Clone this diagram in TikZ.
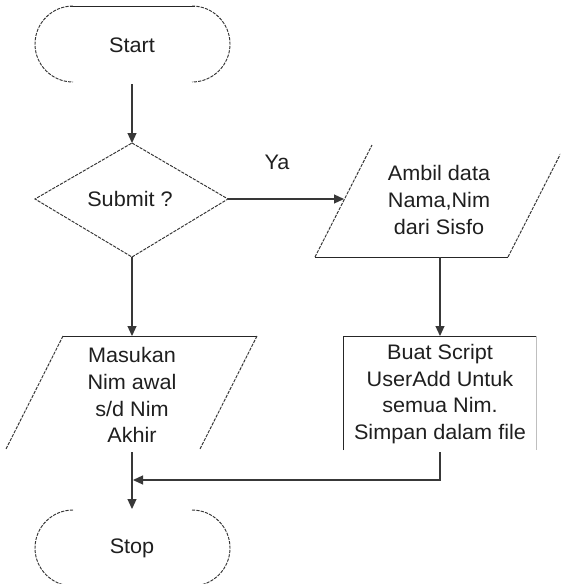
\documentclass[tikz,border=0pt]{standalone}
\usepackage{fontspec}
\setmainfont{Liberation Sans}[FakeStretch=1.03]
\usetikzlibrary{arrows.meta}

\begin{document}
\begin{tikzpicture}[x=1pt,y=-1pt,
  txt/.style={align=center,inner sep=0pt,text=black!88,
    font=\fontsize{21}{26.8}\selectfont},
  solidedge/.style={line width=1pt,draw=black!85},
  brokenedge/.style={line width=0.95pt,draw=black!80,dash pattern=on 3.2pt off 1.2pt},
  faintedge/.style={line width=0.8pt,draw=black!25},
  flow/.style={line width=1.2pt,draw=black!78,
    -{Triangle[length=10pt,width=9pt]}}]

\useasboundingbox (0,0) rectangle (560,584);
\clip (0,0) rectangle (560,584);
\fill[white] (0,0) rectangle (560,584);

% ---------- Start terminator ----------
\node[txt] (start) at (132,45) {Start};
\coordinate (startB) at (132,84);
\draw[solidedge] (70,6) -- (195,6);
\draw[brokenedge] (73,6) arc[start angle=-90,end angle=-270,radius=38];
\draw[brokenedge] (192,6) arc[start angle=-90,end angle=90,radius=38];

% ---------- Decision ----------
\node[txt] (dec) at (130,199) {Submit ?};
\coordinate (decN) at (132,143);
\coordinate (decE) at (228,199);
\coordinate (decS) at (132,257);
\coordinate (decW) at (35,199);
\draw[brokenedge] (decN) -- (decE) -- (decS) -- (decW) -- cycle;
\node[txt] (ya) at (277,162) {Ya};

% ---------- Input: Ambil data ----------
\node[txt] (ambil) at (439,200) {Ambil data\\Nama,Nim\\dari Sisfo};
\coordinate (ambilL) at (344,199);
\coordinate (ambilB) at (440,257);
\draw[solidedge] (315,257) -- (508,257);
\draw[brokenedge] (315,257) -- (372,145);
\draw[brokenedge] (508,257) -- (565,145);

% ---------- Process: Buat Script ----------
\node[txt] (buat) at (440,394) {Buat Script\\UserAdd Untuk\\semua Nim.\\Simpan dalam file};
\coordinate (buatT) at (440,336);
\coordinate (buatB) at (440,452);
\draw[solidedge] (343,450) -- (343,336) -- (536,336);
\draw[faintedge] (536,336) -- (536,450);

% ---------- Input: Masukan Nim ----------
\node[txt] (masuk) at (132,395) {Masukan\\Nim awal\\s/d Nim\\Akhir};
\coordinate (masukT) at (132,336);
\coordinate (masukB) at (132,452);
\draw[solidedge] (63,336) -- (257,336);
\draw[brokenedge] (63,336) -- (6,449);
\draw[brokenedge] (257,336) -- (200,449);

% ---------- Stop terminator ----------
\node[txt] (stop) at (132,548) {Stop};
\coordinate (stopT) at (132,509);
\coordinate (join) at (133,480);
\draw[brokenedge] (73,510) arc[start angle=-90,end angle=-270,radius=38];
\draw[brokenedge] (192,510) arc[start angle=-90,end angle=90,radius=38];

% ---------- Connectors ----------
\draw[flow] (startB) -- (decN);
\draw[flow] (decE) -- (ambilL);
\draw[flow] (decS) -- (masukT);
\draw[flow] (ambilB) -- (buatT);
\draw[flow] (masukB) -- (stopT);
\draw[flow] (buatB) |- (join);

\end{tikzpicture}
\end{document}
